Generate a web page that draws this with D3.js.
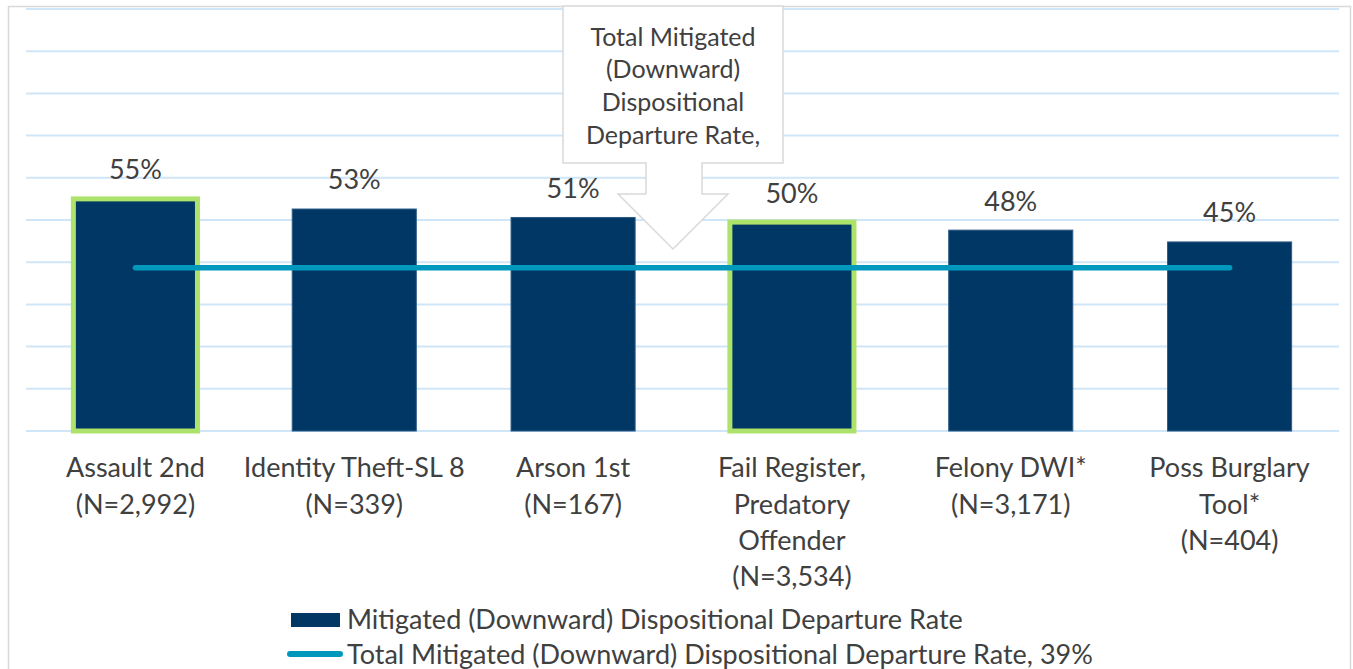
<!DOCTYPE html>
<meta charset="utf-8">
<style>
    body { margin: 0; background: #fff; }
    text { font-family: Lato, "Open Sans", sans-serif; fill: #404040; }
    .grid line { stroke: #cfe5f8; stroke-width: 2; }
    .bar { fill: #003764; stroke: #2c5c87; stroke-width: 1; }
    .bar.hl { stroke: #ade36b; stroke-width: 5; }
</style>
<svg width="1353" height="669"></svg>
<script src="https://d3js.org/d3.v7.min.js"></script>
<script>

var categories = [
    ["Assault 2nd", "(N=2,992)"],
    ["Identity Theft-SL 8", "(N=339)"],
    ["Arson 1st", "(N=167)"],
    ["Fail Register,", "Predatory", "Offender", "(N=3,534)"],
    ["Felony DWI*", "(N=3,171)"],
    ["Poss Burglary", "Tool*", "(N=404)"]
];
var rates = [0.550, 0.526, 0.506, 0.495, 0.476, 0.448];
var rateLabels = ["55%", "53%", "51%", "50%", "48%", "45%"];
var highlighted = [true, false, false, true, false, false];
var totalRate = 0.387;
var yTicks = [0, 0.1, 0.2, 0.3, 0.4, 0.5, 0.6, 0.7, 0.8, 0.9, 1.0];
var legendLabels = ["Mitigated (Downward) Dispositional Departure Rate",
                    "Total Mitigated (Downward) Dispositional Departure Rate, 39%"];
var calloutLines = ["Total Mitigated", "(Downward)", "Dispositional", "Departure Rate,"];

var svg = d3.select("svg");

// chart area border
svg.append("rect")
    .attr("x", 8.5).attr("y", 6.5)
    .attr("width", 1342).attr("height", 720)
    .attr("fill", "#fff")
    .attr("stroke", "#d9d9d9")
    .attr("stroke-width", 1.5);

var x = d3.scaleBand()
    .domain(d3.range(categories.length))
    .range([26, 1339])
    .paddingInner(0.433)
    .paddingOuter(0.2165);

var y = d3.scaleLinear().domain([0, 1]).range([431, 9]);

svg.append("g")
    .attr("class", "grid")
    .selectAll("line")
    .data(yTicks)
    .enter().append("line")
    .attr("x1", 26).attr("x2", 1339)
    .attr("y1", function(d) { return y(d); })
    .attr("y2", function(d) { return y(d); });

svg.selectAll(".bar")
    .data(rates)
    .enter().append("rect")
    .attr("class", function(d, i) { return highlighted[i] ? "bar hl" : "bar"; })
    .attr("x", function(d, i) { return x(i); })
    .attr("y", function(d) { return y(d); })
    .attr("width", x.bandwidth())
    .attr("height", function(d) { return y(0) - y(d); });

// total rate line
var cx = function(i) { return x(i) + x.bandwidth() / 2; };
svg.append("line")
    .attr("x1", cx(0)).attr("x2", cx(categories.length - 1))
    .attr("y1", y(totalRate)).attr("y2", y(totalRate))
    .attr("stroke", "#0099bd")
    .attr("stroke-width", 5.5)
    .attr("stroke-linecap", "round");

// data labels
svg.selectAll(".dlabel")
    .data(rates)
    .enter().append("text")
    .attr("class", "dlabel")
    .attr("x", function(d, i) { return cx(i); })
    .attr("y", function(d) { return y(d) - 29; })
    .attr("dy", "0.35em")
    .attr("text-anchor", "middle")
    .style("font-size", "27px")
    .text(function(d, i) { return rateLabels[i]; });

// category labels
var cat = svg.selectAll(".cat")
    .data(categories)
    .enter().append("text")
    .attr("class", "cat")
    .attr("text-anchor", "middle")
    .style("font-size", "27px");
cat.selectAll("tspan")
    .data(function(d, i) { return d.map(function(s) { return {s: s, i: i}; }); })
    .enter().append("tspan")
    .attr("x", function(d) { return cx(d.i); })
    .attr("y", function(d, j) { return 468 + j * 36.3; })
    .attr("dy", "0.35em")
    .text(function(d) { return d.s; });

// callout (down arrow shape)
var cl = 563, cr = 783, ct = 6, cb = 163, sl = 646, sr = 702, ah = 194, al = 618, ar = 728, tipX = 673, tipY = 249;
svg.append("path")
    .attr("d", "M" + cl + "," + ct + "H" + cr + "V" + cb + "H" + sr + "V" + ah + "H" + ar +
               "L" + tipX + "," + tipY + "L" + al + "," + ah + "H" + sl + "V" + cb + "H" + cl + "Z")
    .attr("fill", "#fff")
    .attr("stroke", "#d9d9d9")
    .attr("stroke-width", 1.5);
svg.selectAll(".callout")
    .data(calloutLines)
    .enter().append("text")
    .attr("class", "callout")
    .attr("x", tipX)
    .attr("y", function(d, i) { return 37 + i * 32.7; })
    .attr("dy", "0.35em")
    .attr("text-anchor", "middle")
    .style("font-size", "25px")
    .text(function(d) { return d; });

// legend
var lg = svg.append("g");
lg.append("rect")
    .attr("x", 291).attr("y", 613).attr("width", 49).attr("height", 14)
    .attr("fill", "#003764");
lg.append("line")
    .attr("x1", 290).attr("x2", 340).attr("y1", 654).attr("y2", 654)
    .attr("stroke", "#0099bd").attr("stroke-width", 6).attr("stroke-linecap", "round");
lg.selectAll("text")
    .data(legendLabels)
    .enter().append("text")
    .attr("x", 347)
    .attr("y", function(d, i) { return 620 + i * 35; })
    .attr("dy", "0.35em")
    .style("font-size", "27px")
    .text(function(d) { return d; });

</script>
